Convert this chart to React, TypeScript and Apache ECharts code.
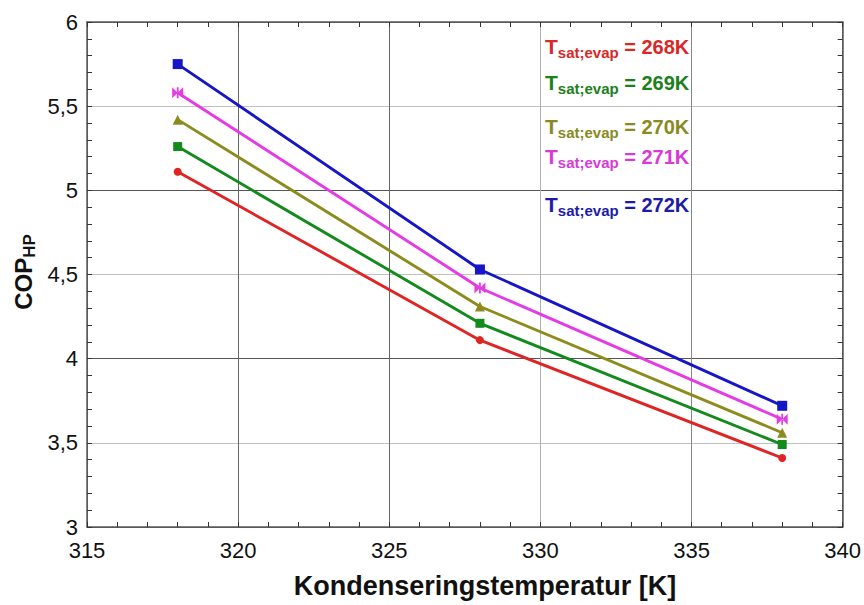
import React, { useEffect, useRef } from "react";
import * as echarts from "echarts";

// Condensing temperature [K]
const condTemps = [318, 328, 338];

// Evaporator saturation temperatures [K]
const evapTemps = ["268", "269", "270", "271", "272"];

// COP of the heat pump for each evaporator temperature
const cop268 = [5.11, 4.11, 3.41];
const cop269 = [5.26, 4.21, 3.49];
const cop270 = [5.42, 4.31, 3.56];
const cop271 = [5.58, 4.42, 3.64];
const cop272 = [5.75, 4.53, 3.72];

const copSeries = [cop268, cop269, cop270, cop271, cop272];

const lineColors = ["#e02424", "#138a1c", "#8c8c1e", "#e43be4", "#1616c8"];
const labelColors = ["#d82828", "#1c801c", "#8a8a22", "#d83ad8", "#1c1ca8"];
const symbols = [
  "circle",
  "rect",
  "triangle",
  "path://M0,0L5,5L0,10ZM10,0L5,5L10,10ZM4.2,0H5.8V10H4.2Z",
  "rect",
];
const symbolSizes = [8, 9, 10, 11, 10];

// Top offsets of the evaporator-temperature annotations
const labelTops = [36, 72, 116, 146, 194];

const tickFont = "'Liberation Sans Narrow', 'Arial Narrow', 'Liberation Sans', Arial, sans-serif";
const boldFont = "'Liberation Sans', Arial, sans-serif";

export default function App() {
  const ref = useRef<HTMLDivElement>(null);

  useEffect(() => {
    if (!ref.current) return;
    document.body.style.margin = "0";
    const chart = echarts.init(ref.current, undefined, { renderer: "svg" });

    const axisLine = { show: true, lineStyle: { color: "#5a5a5a", width: 1.5 } };

    const series = copSeries.map((vals, i) => ({
      name: evapTemps[i],
      type: "line",
      data: condTemps.map((t, j) => [t, vals[j]]),
      xAxisIndex: 0,
      yAxisIndex: 0,
      symbol: symbols[i],
      symbolSize: symbolSizes[i],
      showAllSymbol: true,
      lineStyle: { color: lineColors[i], width: 2.9 },
      itemStyle: { color: lineColors[i] },
      z: 3 + i,
    }));

    const legendTexts = evapTemps.map((t, i) => ({
      type: "text",
      left: 545,
      top: labelTops[i],
      z: 10,
      style: {
        text: `{T|T}{s|sat;evap}{v| = ${t}K}`,
        fill: labelColors[i],
        rich: {
          T: { fontSize: 21, fontWeight: "bold", fontFamily: boldFont, lineHeight: 26, fill: labelColors[i] },
          s: { fontSize: 15, fontWeight: "bold", fontFamily: boldFont, verticalAlign: "bottom", fill: labelColors[i] },
          v: { fontSize: 20, fontWeight: "bold", fontFamily: boldFont, fill: labelColors[i] },
        },
      },
    }));

    chart.setOption({
      animation: false,
      backgroundColor: "#ffffff",
      grid: { left: 87, right: 19, top: 22, bottom: 78, containLabel: false },
      xAxis: [
        {
          type: "value",
          min: 315,
          max: 340,
          interval: 5,
          axisLine,
          axisTick: { show: true, inside: true, length: 5, lineStyle: { color: "#333" } },
          minorTick: { show: true, splitNumber: 5, length: 5, lineStyle: { color: "#333" } },
          axisLabel: { fontSize: 22, fontFamily: tickFont, color: "#111", margin: 12 },
          splitLine: {
            show: true,
            lineStyle: { color: ["#666", "#666", "#666", "#b0b0b0", "#888", "#666"], width: 1 },
          },
        },
        {
          type: "value",
          position: "top",
          min: 315,
          max: 340,
          interval: 5,
          axisLine,
          axisTick: { show: true, inside: true, length: 5, lineStyle: { color: "#333" } },
          minorTick: { show: true, splitNumber: 5, length: 5, lineStyle: { color: "#333" } },
          axisLabel: { show: false },
          splitLine: { show: false },
        },
      ],
      yAxis: [
        {
          type: "value",
          min: 3,
          max: 6,
          interval: 0.5,
          axisLine,
          axisTick: { show: true, inside: true, length: 5, lineStyle: { color: "#333" } },
          minorTick: { show: true, splitNumber: 5, length: 5, lineStyle: { color: "#333" } },
          axisLabel: {
            fontSize: 22,
            fontFamily: tickFont,
            color: "#111",
            margin: 9,
            formatter: (v: number) => String(v).replace(".", ","),
          },
          splitLine: {
            show: true,
            lineStyle: { color: ["#555", "#c0c0c0"], width: 1 },
          },
        },
        {
          type: "value",
          position: "right",
          min: 3,
          max: 6,
          interval: 0.5,
          axisLine,
          axisTick: { show: true, inside: true, length: 5, lineStyle: { color: "#333" } },
          minorTick: { show: true, splitNumber: 5, length: 5, lineStyle: { color: "#333" } },
          axisLabel: { show: false },
          splitLine: { show: false },
        },
      ],
      series,
      graphic: [
        ...legendTexts,
        {
          type: "text",
          x: 485,
          y: 586,
          style: {
            text: "Kondenseringstemperatur [K]",
            fontSize: 27,
            fontWeight: "bold",
            fontFamily: boldFont,
            fill: "#111",
            align: "center",
            verticalAlign: "middle",
          },
        },
        {
          type: "text",
          x: 23,
          y: 272,
          rotation: Math.PI / 2,
          style: {
            text: "{a|COP}{b|HP}",
            align: "center",
            verticalAlign: "middle",
            rich: {
              a: { fontSize: 24, fontWeight: "bold", fontFamily: boldFont, fill: "#111", lineHeight: 30 },
              b: { fontSize: 17, fontWeight: "bold", fontFamily: boldFont, fill: "#111", verticalAlign: "bottom" },
            },
          },
        },
      ],
    });

    return () => chart.dispose();
  }, []);

  return <div ref={ref} style={{ width: 864, height: 605 }} />;
}
